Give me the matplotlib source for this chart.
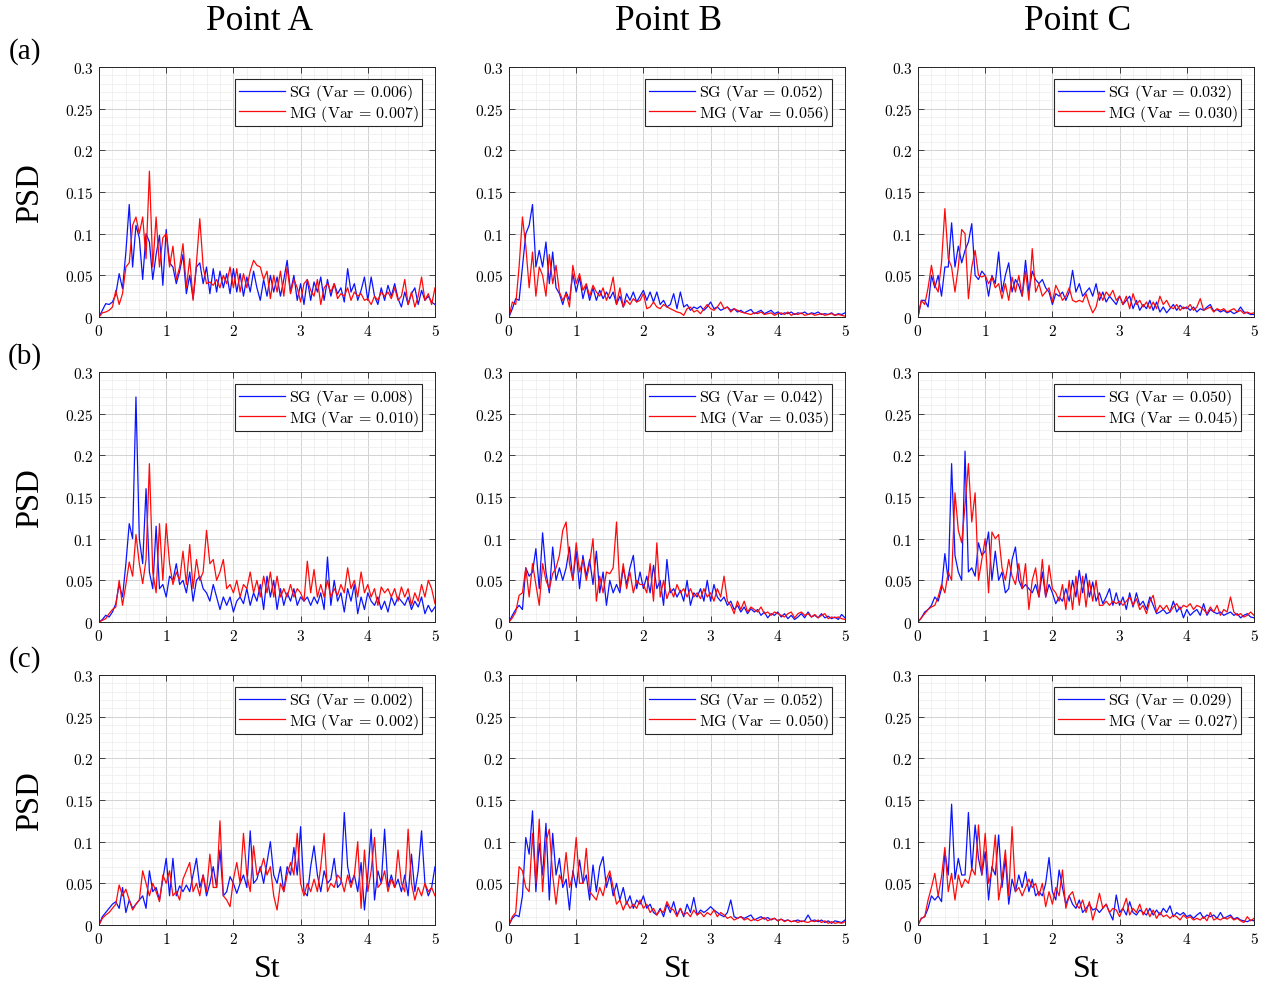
import numpy as np
import matplotlib
matplotlib.use('Agg')
import matplotlib.pyplot as plt
from matplotlib.ticker import MultipleLocator

plt.rcParams['mathtext.fontset'] = 'cm'

# ---------------- data ----------------
point_titles = ['Point A', 'Point B', 'Point C']
row_labels = ['(a)', '(b)', '(c)']
xticks = [0, 1, 2, 3, 4, 5]
xtick_labels = ['0', '1', '2', '3', '4', '5']
yticks = [0, 0.05, 0.1, 0.15, 0.2, 0.25, 0.3]
ytick_labels = ['0', '0.05', '0.1', '0.15', '0.2', '0.25', '0.3']
var_sg = [['0.006', '0.052', '0.032'], ['0.008', '0.042', '0.050'], ['0.002', '0.052', '0.029']]
var_mg = [['0.007', '0.056', '0.030'], ['0.010', '0.035', '0.045'], ['0.002', '0.050', '0.027']]

# PSD sampled every 0.05 in St from 0 to 5
sg_a_A = [0, .008, .016, .015, .018, .027, .052, .034, .078, .135, .06, .11, .095, .045, .1, .09, .045, .075, .098, .038,
          .105, .065, .06, .04, .055, .075, .028, .05, .022, .06, .065, .04, .06, .028, .058, .03, .055, .035, .052, .028,
          .058, .03, .052, .025, .048, .03, .055, .035, .02, .045, .025, .05, .03, .048, .025, .045, .068, .03, .05, .02,
          .04, .015, .045, .02, .042, .03, .048, .02, .045, .025, .04, .028, .035, .018, .058, .03, .04, .02, .032, .048,
          .02, .048, .025, .015, .035, .02, .038, .025, .04, .022, .012, .03, .015, .028, .035, .015, .032, .02, .025, .018,
          .015]
mg_a_A = [0, .005, .006, .008, .012, .032, .015, .028, .06, .065, .11, .12, .1, .12, .07, .175, .06, .12, .06, .095,
          .1, .06, .085, .045, .06, .088, .035, .07, .02, .065, .118, .06, .04, .042, .038, .045, .035, .05, .04, .06,
          .035, .058, .03, .052, .035, .055, .068, .062, .06, .045, .055, .022, .05, .03, .055, .025, .06, .028, .045, .035,
          .018, .04, .045, .032, .025, .045, .015, .035, .04, .03, .04, .022, .028, .025, .035, .02, .03, .025, .028, .02,
          .022, .015, .025, .02, .03, .025, .03, .022, .035, .02, .025, .045, .015, .03, .012, .025, .048, .02, .028, .015,
          .035]
sg_a_B = [0, .01, .022, .02, .06, .1, .11, .135, .06, .08, .06, .09, .04, .078, .035, .028, .015, .03, .02, .052,
          .03, .048, .022, .038, .02, .035, .02, .032, .022, .03, .022, .03, .015, .025, .012, .028, .02, .03, .018, .025,
          .032, .02, .03, .018, .03, .015, .02, .012, .015, .028, .01, .03, .012, .015, .008, .012, .01, .013, .008, .012,
          .018, .01, .012, .008, .01, .012, .008, .01, .006, .008, .005, .007, .009, .004, .006, .008, .004, .006, .008, .004,
          .006, .003, .005, .004, .006, .003, .005, .004, .006, .003, .005, .004, .006, .003, .004, .003, .005, .002, .004, .003,
          .005]
mg_a_B = [0, .018, .015, .06, .12, .085, .035, .078, .025, .06, .05, .025, .075, .04, .062, .03, .02, .028, .012, .062,
          .04, .052, .032, .04, .025, .038, .03, .025, .035, .02, .03, .048, .015, .035, .012, .02, .015, .022, .018, .02,
          .028, .01, .012, .018, .012, .01, .015, .012, .01, .008, .006, .005, .002, .01, .012, .006, .008, .004, .01, .015,
          .01, .008, .012, .018, .01, .012, .006, .01, .008, .006, .005, .004, .003, .005, .004, .006, .003, .004, .005, .002,
          .004, .005, .003, .006, .002, .004, .003, .005, .002, .003, .004, .002, .003, .004, .002, .003, .004, .002, .003, .002,
          .001]
sg_a_C = [0, .02, .02, .012, .05, .035, .05, .025, .06, .06, .113, .06, .085, .065, .08, .09, .112, .05, .045, .055,
          .05, .025, .05, .04, .078, .03, .05, .065, .03, .045, .038, .025, .068, .03, .055, .045, .04, .045, .035, .03,
          .015, .028, .025, .03, .02, .03, .056, .03, .04, .025, .03, .035, .025, .04, .02, .03, .018, .025, .02, .015,
          .025, .015, .02, .025, .01, .02, .008, .015, .01, .02, .008, .018, .006, .012, .005, .01, .015, .008, .014, .01,
          .012, .008, .012, .006, .01, .008, .012, .015, .007, .009, .006, .008, .005, .007, .004, .006, .012, .006, .005, .003,
          .003]
mg_a_C = [0, .02, .015, .035, .062, .038, .03, .065, .13, .07, .06, .03, .06, .105, .1, .022, .06, .08, .05, .048,
          .05, .04, .048, .035, .04, .022, .04, .02, .048, .03, .05, .025, .055, .02, .082, .03, .04, .025, .03, .035,
          .018, .038, .03, .02, .025, .035, .02, .018, .02, .018, .028, .015, .005, .012, .03, .02, .03, .025, .032, .02,
          .025, .015, .025, .01, .028, .015, .02, .012, .018, .01, .018, .01, .025, .015, .02, .012, .01, .015, .008, .012,
          .01, .015, .008, .012, .022, .008, .01, .012, .006, .01, .008, .01, .006, .008, .01, .006, .008, .004, .006, .004,
          .005]

sg_b_A = [0, .003, .008, .006, .012, .022, .045, .03, .07, .118, .1, .27, .1, .07, .16, .06, .04, .115, .04, .045,
          .03, .055, .05, .07, .045, .05, .035, .06, .025, .05, .055, .04, .035, .025, .045, .03, .015, .03, .02, .03,
          .012, .025, .03, .022, .04, .02, .035, .025, .045, .015, .055, .03, .05, .015, .04, .02, .035, .025, .04, .02,
          .03, .025, .03, .02, .03, .022, .035, .015, .078, .02, .05, .025, .035, .012, .04, .025, .045, .01, .03, .015,
          .035, .025, .02, .03, .015, .025, .012, .03, .02, .03, .025, .02, .03, .015, .025, .018, .03, .01, .02, .012,
          .018]
mg_b_A = [0, .002, .004, .01, .015, .018, .05, .02, .045, .072, .055, .105, .07, .046, .075, .19, .06, .035, .118, .05,
          .118, .07, .045, .06, .05, .085, .045, .093, .04, .075, .05, .06, .11, .07, .075, .05, .06, .075, .04, .045,
          .035, .05, .03, .045, .04, .06, .035, .05, .03, .055, .035, .06, .03, .055, .03, .04, .03, .045, .03, .04,
          .035, .025, .073, .035, .063, .03, .045, .03, .05, .03, .04, .032, .045, .035, .065, .04, .05, .03, .06, .035,
          .045, .03, .04, .02, .042, .035, .04, .03, .04, .025, .042, .03, .04, .02, .035, .025, .045, .03, .05, .04,
          .022]
sg_b_B = [0, .008, .015, .02, .015, .065, .055, .06, .088, .04, .107, .06, .035, .09, .05, .065, .05, .065, .09, .05,
          .085, .04, .08, .055, .075, .045, .085, .035, .06, .02, .05, .035, .045, .035, .065, .045, .065, .08, .04, .06,
          .04, .055, .035, .068, .04, .05, .02, .075, .035, .04, .03, .038, .025, .05, .02, .035, .03, .04, .025, .05,
          .025, .045, .03, .025, .03, .02, .025, .015, .02, .012, .018, .01, .016, .012, .015, .008, .012, .005, .01, .008,
          .012, .006, .01, .004, .008, .003, .006, .01, .005, .012, .006, .008, .005, .01, .005, .007, .004, .006, .003, .009,
          .005]
mg_b_B = [0, .005, .012, .032, .035, .065, .03, .07, .045, .02, .07, .05, .04, .058, .065, .08, .11, .12, .07, .05,
          .095, .06, .075, .05, .07, .1, .025, .055, .035, .06, .058, .065, .12, .04, .07, .04, .06, .035, .05, .045,
          .045, .035, .07, .025, .095, .03, .05, .028, .04, .03, .045, .035, .04, .03, .04, .03, .035, .028, .04, .03,
          .035, .025, .04, .03, .055, .025, .02, .01, .025, .015, .025, .012, .018, .015, .012, .018, .01, .012, .008, .012,
          .01, .008, .006, .01, .012, .005, .01, .012, .008, .01, .006, .009, .005, .008, .01, .004, .006, .005, .006, .004,
          .003]
sg_b_C = [0, .005, .012, .015, .02, .03, .025, .04, .082, .05, .19, .08, .06, .05, .205, .06, .065, .055, .095, .08,
          .085, .108, .05, .085, .05, .06, .035, .04, .075, .09, .05, .04, .045, .04, .035, .045, .03, .06, .03, .045,
          .035, .022, .03, .025, .04, .025, .05, .03, .062, .035, .058, .03, .048, .025, .035, .022, .03, .04, .02, .035,
          .02, .03, .015, .035, .018, .035, .02, .025, .015, .03, .02, .01, .012, .015, .01, .012, .025, .012, .018, .005,
          .015, .008, .012, .015, .008, .022, .008, .015, .012, .01, .012, .008, .01, .012, .008, .01, .005, .008, .01, .006,
          .005]
mg_b_C = [0, .005, .01, .015, .018, .02, .03, .045, .035, .06, .05, .155, .11, .095, .14, .19, .12, .155, .05, .075,
          .1, .035, .108, .1, .105, .065, .05, .075, .055, .045, .07, .04, .07, .015, .05, .065, .03, .075, .03, .068,
          .04, .035, .025, .045, .015, .05, .015, .055, .02, .055, .018, .05, .025, .05, .02, .02, .025, .02, .025, .022,
          .025, .02, .025, .03, .02, .028, .015, .02, .01, .025, .032, .012, .02, .015, .02, .012, .018, .022, .015, .02,
          .018, .022, .015, .02, .018, .015, .01, .018, .012, .02, .008, .015, .012, .03, .012, .008, .01, .006, .008, .012,
          .008]

sg_c_A = [0, .01, .015, .02, .025, .028, .02, .045, .015, .03, .02, .025, .03, .035, .02, .065, .04, .045, .03, .055,
          .08, .035, .08, .035, .047, .04, .048, .04, .06, .08, .045, .06, .035, .05, .07, .045, .09, .035, .04, .058,
          .05, .038, .05, .06, .045, .113, .05, .055, .07, .05, .075, .1, .06, .05, .07, .04, .07, .06, .093, .06,
          .118, .04, .035, .07, .095, .06, .04, .065, .05, .055, .08, .045, .05, .135, .07, .05, .06, .04, .075, .018,
          .06, .115, .03, .065, .05, .115, .045, .06, .045, .055, .04, .06, .035, .085, .04, .065, .113, .05, .035, .045,
          .07]
mg_c_A = [0, .008, .012, .015, .02, .025, .048, .035, .043, .03, .018, .025, .03, .065, .05, .035, .05, .04, .028, .06,
          .05, .065, .035, .04, .03, .055, .065, .075, .04, .05, .035, .06, .04, .085, .045, .045, .125, .035, .03, .022,
          .055, .075, .05, .11, .06, .04, .095, .06, .065, .08, .06, .07, .035, .018, .05, .04, .06, .075, .06, .11,
          .05, .035, .05, .04, .055, .04, .07, .11, .04, .05, .045, .06, .055, .04, .06, .045, .06, .1, .02, .09,
          .04, .065, .105, .045, .05, .065, .04, .055, .045, .09, .05, .04, .115, .05, .03, .045, .035, .05, .04, .045,
          .035]
sg_c_B = [0, .008, .012, .01, .035, .105, .085, .137, .04, .098, .06, .122, .03, .11, .06, .08, .045, .055, .018, .065,
          .045, .078, .05, .06, .03, .072, .04, .07, .082, .045, .06, .035, .05, .03, .045, .025, .035, .02, .03, .025,
          .035, .02, .025, .015, .012, .02, .01, .025, .015, .028, .012, .02, .01, .025, .015, .033, .012, .018, .015, .018,
          .022, .018, .015, .012, .01, .015, .03, .01, .008, .01, .008, .01, .012, .006, .008, .01, .007, .009, .006, .008,
          .005, .007, .005, .006, .004, .005, .006, .004, .005, .012, .005, .006, .004, .006, .003, .005, .002, .005, .004, .003,
          .006]
mg_c_B = [0, .01, .015, .07, .065, .045, .04, .11, .05, .127, .04, .1, .115, .06, .025, .06, .05, .087, .045, .06,
          .105, .05, .05, .092, .04, .035, .03, .045, .035, .055, .065, .045, .025, .03, .018, .028, .02, .025, .02, .03,
          .02, .025, .015, .02, .012, .018, .015, .028, .02, .018, .01, .02, .012, .015, .01, .018, .012, .015, .01, .015,
          .012, .018, .01, .015, .012, .008, .01, .006, .008, .01, .006, .008, .005, .007, .005, .007, .009, .005, .007, .008,
          .005, .007, .004, .006, .004, .005, .003, .005, .004, .003, .005, .004, .006, .003, .005, .002, .004, .002, .003, .002,
          .004]
sg_c_C = [0, .008, .01, .02, .035, .03, .035, .028, .088, .06, .145, .055, .08, .06, .06, .135, .065, .12, .08, .06,
          .088, .03, .07, .06, .108, .045, .08, .025, .055, .04, .06, .045, .064, .04, .055, .035, .04, .035, .05, .081,
          .04, .03, .066, .045, .025, .035, .025, .02, .03, .015, .02, .025, .018, .02, .015, .02, .025, .015, .006, .036,
          .015, .02, .012, .028, .015, .012, .018, .015, .012, .02, .012, .018, .012, .02, .015, .023, .01, .015, .012, .015,
          .01, .012, .008, .012, .015, .008, .012, .01, .012, .008, .015, .008, .01, .012, .007, .009, .006, .005, .004, .006,
          .005]
mg_c_C = [0, .008, .01, .03, .045, .062, .035, .058, .093, .04, .062, .03, .06, .045, .055, .05, .068, .06, .12, .06,
          .11, .05, .065, .108, .03, .055, .09, .035, .118, .04, .045, .035, .045, .055, .045, .05, .035, .05, .022, .04,
          .025, .045, .035, .066, .02, .035, .04, .025, .02, .03, .015, .028, .006, .02, .038, .02, .025, .015, .02, .018,
          .01, .02, .032, .012, .02, .015, .025, .012, .02, .01, .018, .008, .015, .01, .012, .008, .012, .01, .006, .012,
          .008, .01, .006, .008, .006, .01, .005, .015, .006, .008, .006, .009, .007, .01, .006, .008, .005, .003, .01, .005,
          .008]

sg_rows = [[sg_a_A, sg_a_B, sg_a_C], [sg_b_A, sg_b_B, sg_b_C], [sg_c_A, sg_c_B, sg_c_C]]
mg_rows = [[mg_a_A, mg_a_B, mg_a_C], [mg_b_A, mg_b_B, mg_b_C], [mg_c_A, mg_c_B, mg_c_C]]

# ---------------- figure ----------------
W, H = 1268, 987
fig = plt.figure(figsize=(W / 100, H / 100), dpi=100)
fig.patch.set_facecolor('white')

col_left = [99, 509, 918]
col_w = 336
row_top = [68, 373, 676]
row_h = 250

serif = 'Liberation Serif'

for r in range(3):
    for c in range(3):
        ax = fig.add_axes([col_left[c] / W, 1 - (row_top[r] + row_h) / H, col_w / W, row_h / H])
        y_sg = np.array(sg_rows[r][c])
        y_mg = np.array(mg_rows[r][c])
        x_sg = np.linspace(0, 5, len(y_sg))
        x_mg = np.linspace(0, 5, len(y_mg))
        ax.plot(x_sg, y_sg, color='#0a14ff', lw=0.9,
                label=r'$\mathrm{SG\ (Var\,=\,%s)}$' % var_sg[r][c])
        ax.plot(x_mg, y_mg, color='#ff0a0a', lw=0.9,
                label=r'$\mathrm{MG\ (Var\,=\,%s)}$' % var_mg[r][c])
        ax.set_xlim(0, 5)
        ax.set_ylim(0, 0.3)
        ax.set_xticks(xticks)
        ax.set_xticklabels(['$%s$' % t for t in xtick_labels], fontsize=11)
        ax.set_yticks(yticks)
        ax.set_yticklabels(['$%s$' % t for t in ytick_labels], fontsize=11)
        ax.xaxis.set_minor_locator(MultipleLocator(0.2))
        ax.yaxis.set_minor_locator(MultipleLocator(0.01))
        ax.set_axisbelow(True)
        ax.grid(which='major', color='#d2d2d2', lw=0.7)
        ax.grid(which='minor', color='#ebebeb', lw=0.5)
        ax.tick_params(which='major', direction='in', length=4, width=0.6,
                       top=True, right=True, color='#262626', pad=4)
        ax.tick_params(which='minor', length=0)
        for s in ax.spines.values():
            s.set_color('#262626')
            s.set_linewidth(0.7)
        leg = ax.legend(loc='upper right', bbox_to_anchor=(1 - 13 / col_w, 1 - 12 / row_h),
                        borderaxespad=0, fontsize=11.5, handlelength=2.9, handletextpad=0.25,
                        borderpad=0.2, labelspacing=0.05, fancybox=False, framealpha=1,
                        edgecolor='#262626')
        leg.get_frame().set_linewidth(0.8)

# column titles and x labels
for c in range(3):
    xc = (col_left[c] + col_w / 2) / W
    fig.text(xc - 8 / W, 1 - 22 / H, point_titles[c], ha='center', va='center',
             fontsize=25.5, family=serif)
    fig.text(xc, 1 - 970 / H, 'St', ha='center', va='center', fontsize=23, family=serif)

# row labels and y labels
for r in range(3):
    fig.text(25 / W, 1 - (row_top[r] - 16) / H, row_labels[r], ha='center', va='center',
             fontsize=21, family=serif)
    fig.text(30 / W, 1 - (row_top[r] + row_h / 2) / H, 'PSD', ha='center', va='center',
             rotation=90, fontsize=23.5, family=serif)

fig.savefig('out.png', dpi=100, facecolor='white')
